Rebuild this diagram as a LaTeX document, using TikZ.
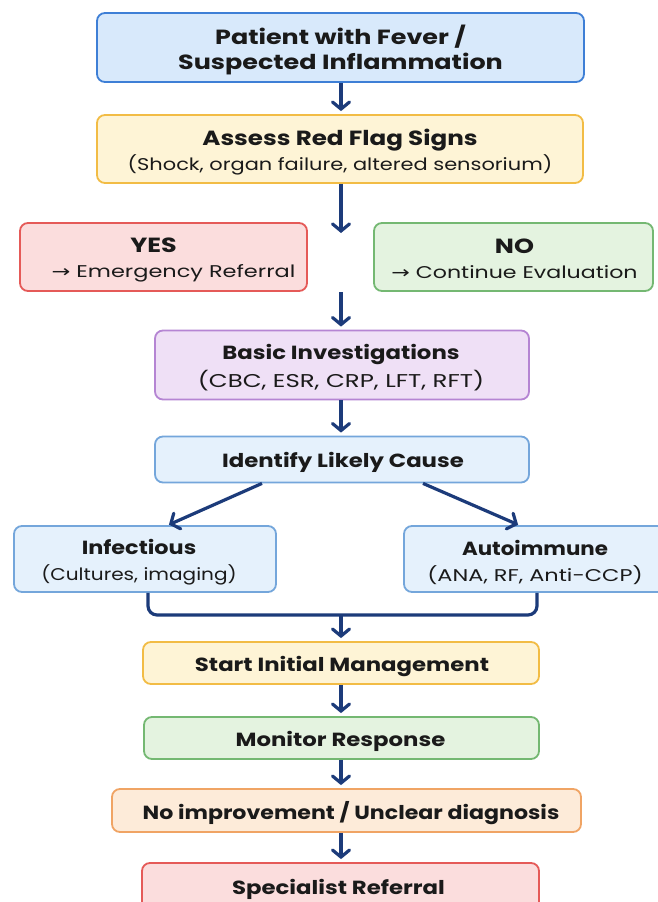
\documentclass[tikz,border=0pt]{standalone}
\usepackage{fontspec}
\usepackage{graphicx}
\setmainfont{Poppins}
\newfontfamily\symf{DejaVu Sans}
\usetikzlibrary{arrows.meta}
\definecolor{navy}{HTML}{1C3B7A}
\definecolor{bluefill}{HTML}{D8E9FB}
\definecolor{blueline}{HTML}{3E7FD6}
\definecolor{yelfill}{HTML}{FEF4D6}
\definecolor{yelline}{HTML}{F2BC45}
\definecolor{redfill}{HTML}{FBDDDD}
\definecolor{redline}{HTML}{E55A58}
\definecolor{grnfill}{HTML}{E4F3E0}
\definecolor{grnline}{HTML}{74B872}
\definecolor{purfill}{HTML}{EFE0F6}
\definecolor{purline}{HTML}{B585D3}
\definecolor{lbfill}{HTML}{E5F1FC}
\definecolor{lbline}{HTML}{74A6DB}
\definecolor{orfill}{HTML}{FDEBD9}
\definecolor{orline}{HTML}{F0A464}
\definecolor{txt}{HTML}{1A1A1A}
\newcommand{\ttl}[2][1.24]{\scalebox{#1}[1]{\bfseries #2}}
\newcommand{\sbt}[3][1.24]{\scalebox{#1}[1]{\fontsize{#2}{20}\selectfont #3}}
\newcommand{\rarr}{{\symf →}}
\begin{document}
\begin{tikzpicture}[x=1pt,y=-1pt,
  box/.style={draw, line width=1.8pt, rounded corners=8pt, inner sep=0pt},
  lbl/.style={inner sep=0pt, align=center, text=txt, font=\fontsize{20.5}{25}\selectfont},
  lbls/.style={inner sep=0pt, align=center, text=txt, font=\fontsize{19}{25}\selectfont},
  arr/.style={draw=navy, line width=3.2pt,
    -{Straight Barb[length=7pt,width=17pt,line cap=round]}, shorten >=3pt},
  link/.style={draw=navy, line width=3.2pt, rounded corners=9pt}]
\useasboundingbox (0,0) rectangle (657,902);
\fill[white] (0,0) rectangle (657,902);

% boxes
\node[box, fill=bluefill, draw=blueline, minimum width=487pt, minimum height=69pt] (b1) at (340.5,47.5) {};
\node[box, fill=yelfill, draw=yelline, minimum width=486pt, minimum height=68pt] (b2) at (340,149) {};
\node[box, fill=redfill, draw=redline, minimum width=287pt, minimum height=68pt] (yes) at (163.5,257) {};
\node[box, fill=grnfill, draw=grnline, minimum width=279pt, minimum height=68pt] (no) at (513.5,257) {};
\node[box, fill=purfill, draw=purline, minimum width=374pt, minimum height=69pt] (basic) at (342,365) {};
\node[box, fill=lbfill, draw=lbline, minimum width=374pt, minimum height=46pt] (ident) at (342,459.5) {};
\node[box, fill=lbfill, draw=lbline, minimum width=262pt, minimum height=66pt] (inf) at (145,559) {};
\node[box, fill=lbfill, draw=lbline, minimum width=262pt, minimum height=66pt] (auto) at (535,559) {};
\node[box, fill=yelfill, draw=yelline, minimum width=396pt, minimum height=42pt] (start) at (341,663) {};
\node[box, fill=grnfill, draw=grnline, minimum width=395pt, minimum height=42pt] (mon) at (341.5,738) {};
\node[box, fill=orfill, draw=orline, minimum width=469pt, minimum height=43pt] (noimp) at (346.5,810.5) {};
\node[box, fill=redfill, draw=redline, minimum width=397pt, minimum height=47pt] (spec) at (340.5,886.5) {};

% texts
\node[lbl] (b1t) at (340.5,50) {\ttl{Patient with Fever /}\\[0.5pt]\ttl{Suspected Inflammation}};
\node[lbl] (b2t) at (340,152) {\ttl[1.20]{Assess Red Flag Signs}\\\sbt[1.23]{17}{(Shock, organ failure, altered sensorium)}};
\node[lbl] (yest) at (163.5,260) {\ttl{YES}\hspace*{20pt}\\\hspace*{20pt}\sbt[1.32]{17}{\rarr\ Emergency Referral}};
\node[lbl] (not) at (514.5,258.5) {\ttl{NO}\\\sbt[1.30]{17}{\rarr\ Continue Evaluation}};
\node[lbls] (basict) at (341,368) {\ttl[1.20]{Basic Investigations}\\[3pt]\sbt[1.32]{18.5}{(CBC, ESR, CRP, LFT, RFT)}};
\node[lbls] (identt) at (343,462) {\ttl[1.20]{Identify Likely Cause}};
\node[lbls] (inft) at (139,562) {\ttl[1.177]{Infectious}\\[1pt]\sbt[1.18]{17}{(Cultures, imaging)}};
\node[lbls] (autot) at (535,562) {\ttl[1.124]{Autoimmune}\\[1pt]\sbt[1.32]{17}{(ANA, RF, Anti-CCP)}};
\node[lbls] (startt) at (342,666) {\ttl[1.20]{Start Initial Management}};
\node[lbls] (mont) at (340.5,741) {\ttl[1.20]{Monitor Response}};
\node[lbls] (noimpt) at (351,813.5) {\ttl[1.164]{No improvement / Unclear diagnosis}};
\node[lbls] (spect) at (338.5,889) {\ttl[1.20]{Specialist Referral}};

% connectors
\coordinate (c1) at (341,236);
\coordinate (c2) at (341,292);
\coordinate (mj) at (341,615);

\draw[arr] (b1.south -| 341,0) -- (b2.north -| 341,0);
\draw[arr] (b2.south -| 341,0) -- (c1);
\draw[arr] (c2) -- (basic.north -| 341,0);
\draw[arr] (basic.south -| 341,0) -- (ident.north -| 341,0);
\draw[arr, shorten >=1pt] (ident.south -| 262,0) -- (inf.north -| 168,0);
\draw[arr, shorten >=1pt] (ident.south -| 423,0) -- (auto.north -| 519,0);
\draw[link] (inf.south -| 148,0) |- (mj) -| (auto.south -| 537,0);
\draw[arr] (mj) -- (start.north -| 341,0);
\draw[arr] (start.south -| 341,0) -- (mon.north -| 341,0);
\draw[arr] (mon.south -| 341,0) -- (noimp.north -| 341,0);
\draw[arr] (noimp.south -| 341,0) -- (spec.north -| 341,0);
\end{tikzpicture}
\end{document}
